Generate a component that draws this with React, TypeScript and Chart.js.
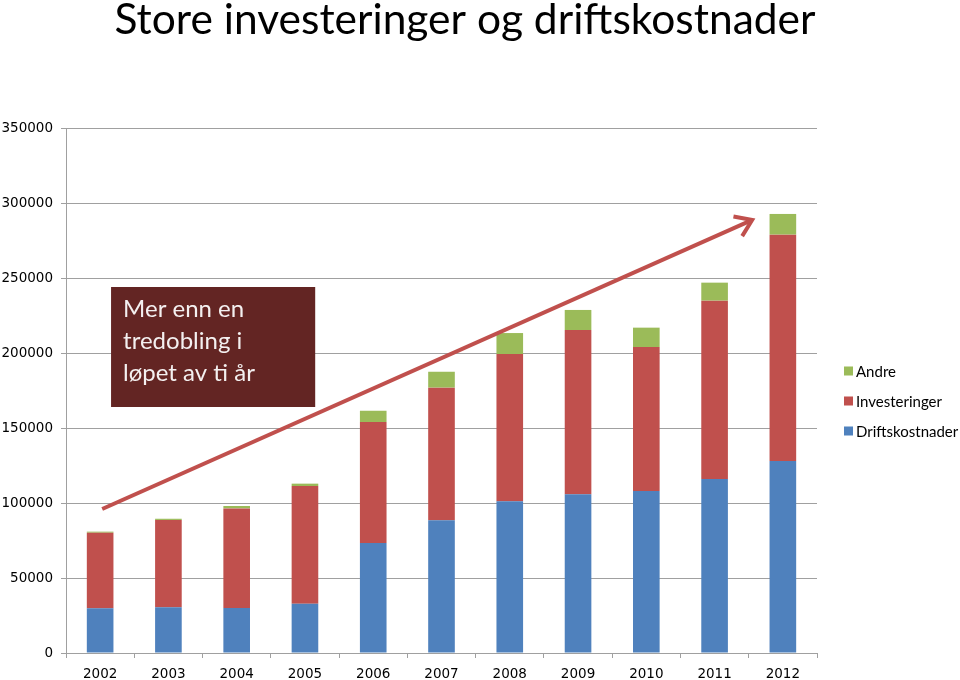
import React, { useEffect, useRef } from "react";
import { Chart, registerables } from "chart.js";

Chart.register(...registerables);

const TITLE = "Store investeringer og driftskostnader";
const YEARS = ["2002", "2003", "2004", "2005", "2006", "2007", "2008", "2009", "2010", "2011", "2012"];
const DRIFTSKOSTNADER = [29800, 30500, 30000, 32900, 73300, 88500, 101100, 105800, 108000, 116000, 128000];
const INVESTERINGER = [50400, 58200, 66400, 78400, 80700, 88400, 98200, 109500, 96000, 118900, 150900];
const ANDRE = [700, 800, 1600, 1600, 7500, 10600, 14000, 13400, 12900, 12000, 13800];
const SERIES_NAMES = ["Driftskostnader", "Investeringer", "Andre"];
const Y_MIN = 0;
const Y_MAX = 350000;
const Y_STEP = 50000;

const NOTE_LINES = ["Mer enn en", "tredobling i", "løpet av ti år"];
// annotation anchors in data units (category index, value)
const NOTE_BOX = { x0: 0.16, x1: 3.15, y0: 244000, y1: 164000 };
const ARROW = { x0: 0.03, y0: 96000, x1: 9.55, y1: 288700 };

const COLORS = ["#4F81BD", "#C0504D", "#9BBB59"];
const GRID = "#a0a0a0";

const overlayPlugin = {
  id: "overlay",
  afterDraw(chart: any) {
    const ctx = chart.ctx;
    const xs = chart.scales.x;
    const ys = chart.scales.y;
    ctx.save();

    // title
    ctx.fillStyle = "#000";
    ctx.font = "42.5px Lato";
    ctx.textAlign = "center";
    ctx.textBaseline = "alphabetic";
    ctx.fillText(TITLE, 465, 34);

    // note box
    const bx0 = xs.getPixelForValue(NOTE_BOX.x0);
    const bx1 = xs.getPixelForValue(NOTE_BOX.x1);
    const by0 = ys.getPixelForValue(NOTE_BOX.y0);
    const by1 = ys.getPixelForValue(NOTE_BOX.y1);
    ctx.fillStyle = "#632523";
    ctx.fillRect(bx0, by0, bx1 - bx0, by1 - by0);
    ctx.fillStyle = "#f4f0f0";
    ctx.font = "24px Lato";
    ctx.textAlign = "left";
    NOTE_LINES.forEach((t, i) => {
      ctx.fillText(t, bx0 + 12, by0 + 30 + i * 32);
    });

    // arrow
    const ax0 = xs.getPixelForValue(ARROW.x0);
    const ay0 = ys.getPixelForValue(ARROW.y0);
    const ax1 = xs.getPixelForValue(ARROW.x1);
    const ay1 = ys.getPixelForValue(ARROW.y1);
    ctx.strokeStyle = "#C0504D";
    ctx.lineWidth = 4;
    ctx.lineCap = "butt";
    ctx.beginPath();
    ctx.moveTo(ax0, ay0);
    ctx.lineTo(ax1 - 2, ay1 + 1);
    ctx.stroke();
    const ang = Math.atan2(ay1 - ay0, ax1 - ax0);
    const L = 19;
    ctx.lineJoin = "miter";
    ctx.beginPath();
    ctx.moveTo(ax1 - L * Math.cos(ang - 0.6), ay1 - L * Math.sin(ang - 0.6));
    ctx.lineTo(ax1, ay1);
    ctx.lineTo(ax1 - L * Math.cos(ang + 0.6), ay1 - L * Math.sin(ang + 0.6));
    ctx.stroke();

    // legend (reverse order)
    const ds = chart.data.datasets.slice().reverse();
    ctx.font = "15px Lato";
    ctx.textBaseline = "middle";
    ds.forEach((d: any, i: number) => {
      const cy = 371 + i * 30;
      ctx.fillStyle = d.backgroundColor;
      ctx.fillRect(844, cy - 4.5, 9, 9);
      ctx.fillStyle = "#000";
      ctx.fillText(d.label, 856, cy + 1);
    });
    ctx.restore();
  },
};

export default function App() {
  const ref = useRef<HTMLCanvasElement>(null);
  useEffect(() => {
    if (!ref.current) return;
    const chart = new Chart(ref.current, {
      type: "bar",
      data: {
        labels: YEARS,
        datasets: [DRIFTSKOSTNADER, INVESTERINGER, ANDRE].map((d, i) => ({
          label: SERIES_NAMES[i],
          data: d,
          backgroundColor: COLORS[i],
          borderWidth: 0,
          categoryPercentage: 1,
          barPercentage: 0.39,
        })),
      },
      options: {
        responsive: false,
        animation: false,
        layout: { padding: { top: 128, right: 143, bottom: 0, left: 0 } },
        plugins: {
          legend: { display: false },
          title: { display: false },
          tooltip: { enabled: false },
        },
        scales: {
          x: {
            stacked: true,
            grid: { display: true, drawOnChartArea: false, color: GRID, tickLength: 5, offset: true },
            border: { color: GRID },
            ticks: { color: "#000", font: { family: "DejaVu Sans", size: 13.5 }, padding: 8, maxRotation: 0 },
            afterFit(s: any) {
              s.height = 27;
            },
          },
          y: {
            stacked: true,
            min: Y_MIN,
            max: Y_MAX,
            grid: { color: GRID, tickLength: 5 },
            border: { color: GRID },
            ticks: {
              stepSize: Y_STEP,
              color: "#000",
              font: { family: "DejaVu Sans", size: 13.5 },
              padding: 8,
              callback: (v: any) => String(v),
            },
            afterFit(s: any) {
              s.width = 66;
            },
          },
        },
      },
      plugins: [overlayPlugin],
    });
    return () => chart.destroy();
  }, []);
  return (
    <div style={{ position: "absolute", left: 0, top: 0, width: 960, height: 680, background: "#fff" }}>
      <canvas ref={ref} width={960} height={680} style={{ display: "block" }} />
    </div>
  );
}
